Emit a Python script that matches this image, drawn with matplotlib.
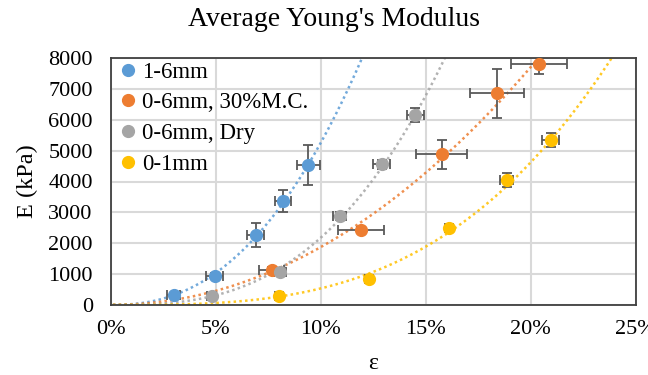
import numpy as np
import matplotlib.pyplot as plt
from matplotlib.ticker import FuncFormatter

plt.rcParams['font.family'] = ['Liberation Serif', 'DejaVu Serif']

labels = ["1-6mm", "0-6mm, 30%M.C.", "0-6mm, Dry", "0-1mm"]
colors = ["#5B9BD5", "#ED7D31", "#A5A5A5", "#FFC000"]

strain_16 = [0.030, 0.0495, 0.069, 0.082, 0.094]
E_16 = [324, 940, 2265, 3365, 4530]
xerr_16 = [0.003, 0.004, 0.004, 0.004, 0.0055]
yerr_16 = [60, 80, 390, 360, 640]

strain_mc = [0.0767, 0.119, 0.1576, 0.184, 0.204]
E_mc = [1133, 2430, 4890, 6860, 7800]
xerr_mc = [0.006, 0.011, 0.012, 0.013, 0.0135]
yerr_mc = [80, 100, 470, 790, 300]

strain_dry = [0.048, 0.0805, 0.109, 0.129, 0.145]
E_dry = [290, 1070, 2880, 4560, 6150]
xerr_dry = [0.002, 0.003, 0.003, 0.004, 0.004]
yerr_dry = [60, 80, 120, 150, 230]

strain_01 = [0.080, 0.123, 0.161, 0.1886, 0.2095]
E_01 = [290, 840, 2490, 4045, 5340]
xerr_01 = [0.002, 0.002, 0.002, 0.003, 0.004]
yerr_01 = [60, 80, 100, 230, 230]

series = [
    (strain_16, E_16, xerr_16, yerr_16),
    (strain_mc, E_mc, xerr_mc, yerr_mc),
    (strain_dry, E_dry, xerr_dry, yerr_dry),
    (strain_01, E_01, xerr_01, yerr_01),
]

fig = plt.figure(figsize=(6.48, 3.75), dpi=100)
ax = fig.add_axes([0.171, 0.187, 0.81, 0.658])

xs = np.linspace(0.001, 0.25, 300)
for (x, y, xe, ye), lab, c in zip(series, labels, colors):
    # power-law trendline, like Excel
    b, a = np.polyfit(np.log(x), np.log(y), 1)
    ax.plot(xs, np.exp(a) * xs ** b, linestyle=(0, (1, 1.3)), color=c,
            linewidth=1.8, alpha=0.85, zorder=2)
    ax.errorbar(x, y, xerr=xe, yerr=ye, fmt="none", ecolor="#595959",
                elinewidth=1.3, capsize=3.5, capthick=1.3, zorder=3)
    ax.plot(x, y, "o", color=c, markersize=8.5, markeredgecolor=c,
            label=lab, zorder=4)

ax.set_xlim(0, 0.25)
ax.set_ylim(0, 8000)
ax.set_xticks(np.arange(0, 0.26, 0.05))
ax.set_yticks(np.arange(0, 8001, 1000))
ax.xaxis.set_major_formatter(FuncFormatter(lambda v, p: f"{v*100:.0f}%"))
ax.grid(True, color="#D9D9D9", linewidth=1.5)
ax.set_axisbelow(True)
for s in ax.spines.values():
    s.set_color("#404040")
    s.set_linewidth(1.3)
ax.tick_params(length=0, labelsize=16)
ax.tick_params(axis="y", pad=13)
ax.tick_params(axis="x", pad=11)

fig.text(334 / 648, 1 - 19 / 375, "Average Young's Modulus", fontsize=20,
         ha="center", va="center")
ax.set_xlabel("ε", fontsize=17, labelpad=10)
ax.set_ylabel("E (kPa)", fontsize=17.5, labelpad=7)

ax.legend(loc="upper left", frameon=False, fontsize=16.5, handletextpad=0.0,
          borderaxespad=0.0, labelspacing=0.42, handlelength=1.2,
          borderpad=0.15)

plt.savefig("out.png", dpi=100)
